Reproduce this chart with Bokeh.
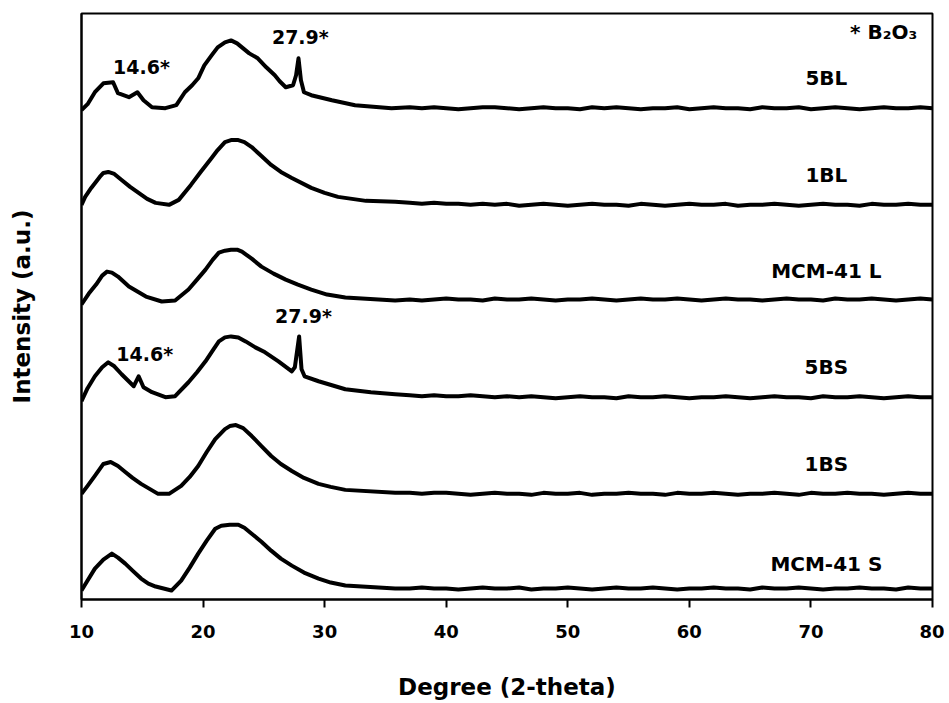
from bokeh.plotting import figure
from bokeh.models import Range1d, Label, FixedTicker
from bokeh.embed import file_html
from bokeh.resources import INLINE

# ---------------- data ----------------
x_ticks = [10, 20, 30, 40, 50, 60, 70, 80]
series_names = ["5BL", "1BL", "MCM-41 L", "5BS", "1BS", "MCM-41 S"]
offsets = [493, 396, 301, 203, 106, 11]

deg_5BL = [10, 10.5, 11.1, 11.8, 12.6, 13.0, 13.9, 14.6, 15.1, 15.8, 16.9, 17.8, 18.5, 19.1,
           19.6, 20.1, 20.7, 21.2, 21.8, 22.3, 22.8, 23.2, 23.8, 24.5, 25.2, 25.9, 26.3, 26.8,
           27.4, 27.65, 27.85, 28.05, 28.3, 28.9, 30.6, 32.5, 35.5]
int_5BL = [-2, 4, 16, 25, 26, 15, 11, 16, 8, 1, 0, 3, 16, 23,
           30, 43, 53, 61, 66, 68, 65, 61, 55, 50, 41, 33, 27, 21,
           23, 33, 50, 28, 16, 13, 8, 3, 0]

deg_1BL = [10, 10.3, 10.8, 11.5, 11.8, 12.2, 12.7, 13.3, 14.0, 14.7, 15.4, 16.1, 17.2, 18.0,
           19.0, 19.8, 20.7, 21.2, 21.8, 22.3, 22.9, 23.4, 24.0, 24.8, 25.6, 26.4, 27.3, 28.9,
           30.0, 31.1, 33.4, 35.8]
int_1BL = [0, 8, 17, 28, 32, 33, 31, 25, 18, 12, 6, 2, 0, 5,
           20, 33, 47, 55, 63, 65, 65, 63, 58, 49, 40, 33, 27, 17,
           12, 8, 4, 3]

deg_MCML = [10, 10.6, 11.2, 11.7, 12.1, 12.5, 13.0, 13.9, 14.6, 15.3, 16.6, 17.7, 18.8, 19.5,
            20.2, 20.8, 21.3, 21.8, 22.3, 22.8, 23.2, 24.0, 24.8, 25.8, 26.8, 27.8, 28.9, 30.2,
            31.7, 35.8]
int_MCML = [-5, 6, 15, 24, 28, 27, 23, 13, 8, 3, -2, -1, 10, 20,
            30, 40, 47, 49, 50, 50, 48, 41, 33, 26, 20, 15, 10, 5,
            2, -1]

deg_5BS = [10, 10.5, 11.1, 11.7, 12.2, 12.7, 13.3, 13.8, 14.3, 14.7, 15.1, 15.8, 16.9, 17.7,
           18.8, 19.5, 20.2, 20.8, 21.3, 21.8, 22.3, 22.9, 23.5, 24.3, 25.1, 26.2, 27.3, 27.55,
           27.9, 28.1, 28.35, 29.5, 31.7, 33.8, 35.8]
int_5BS = [-4, 9, 21, 30, 35, 31, 23, 17, 11, 21, 10, 5, 0, 1,
           15, 25, 36, 47, 56, 60, 61, 60, 56, 50, 45, 36, 26, 30,
           61, 28, 21, 16, 8, 5, 3]

deg_1BS = [10, 10.5, 11.1, 11.8, 12.4, 13.0, 13.6, 14.2, 14.9, 15.6, 16.3, 17.2, 18.2, 18.9,
           19.6, 20.3, 21.0, 21.8, 22.2, 22.7, 23.3, 24.0, 24.8, 25.6, 26.4, 27.3, 28.3, 29.5,
           30.5, 31.7, 35.8]
int_1BS = [0, 8, 18, 30, 32, 28, 22, 16, 10, 5, 0, 0, 8, 17,
           28, 42, 55, 65, 68, 69, 66, 58, 48, 38, 30, 23, 16, 10,
           7, 4, 1]

deg_MCMS = [10, 10.5, 11.1, 11.8, 12.5, 13.0, 13.6, 14.2, 14.9, 15.5, 16.1, 17.4, 18.2, 18.9,
            19.6, 20.3, 21.0, 21.5, 22.2, 22.9, 23.4, 24.0, 24.8, 25.6, 26.4, 27.3, 28.3, 29.5,
            30.5, 31.7, 35.8]
int_MCMS = [-2, 8, 20, 29, 35, 31, 25, 18, 10, 5, 2, -2, 8, 21,
            35, 48, 60, 63, 64, 64, 61, 55, 47, 38, 30, 23, 16, 10,
            6, 3, 0]

tail_deg = list(range(37, 81))
tail_5BL = [1, 0, 1, 0, -1, 0, 1, 1, 0, -1, 0, 1, 0, 0, -1, 1, 0, 1, 0, -1, 0, 0,
            1, -1, 0, 1, 0, 0, -1, 1, 0, 0, 1, -1, 0, 1, 0, -1, 0, 1, 0, 0, 1, 0]
tail_1BL = [2, 1, 2, 1, 1, 0, 1, 0, 1, -1, 0, 1, 0, -1, 0, 1, 0, 0, -1, 1, 0, -1,
            0, 1, 0, 0, 1, -1, 0, 0, 1, 0, -1, 0, 1, 0, 0, -1, 1, 0, 0, 1, 0, 0]
tail_MCML = [0, -1, 0, 1, 0, 0, -1, 1, 0, 0, 1, 0, -1, 0, 0, 1, 0, -1, 0, 1, 0, 0,
             1, 0, -1, 0, 1, 0, 0, -1, 0, 1, 0, 0, -1, 1, 0, 0, 1, 0, -1, 0, 1, 0]
tail_5BS = [2, 1, 2, 1, 1, 2, 1, 0, 1, 0, 1, 0, -1, 0, 1, 0, 0, -1, 1, 0, 0, 1,
            0, -1, 0, 0, 1, 0, -1, 0, 1, 0, 0, -1, 1, 0, 0, 1, 0, -1, 0, 1, 0, 0]
tail_1BS = [1, 0, 1, 1, 0, -1, 0, 1, 0, 0, -1, 1, 0, 0, 1, -1, 0, 0, 1, 0, 0, -1,
            1, 0, 0, 1, 0, -1, 0, 0, 1, 0, -1, 1, 0, 0, 1, 0, 0, -1, 0, 1, 0, 0]
tail_MCMS = [0, 1, 0, 0, -1, 0, 1, 0, 0, 1, -1, 0, 0, 1, 0, -1, 0, 1, 0, 0, 1, 0,
             -1, 0, 0, 1, 0, 0, -1, 1, 0, 0, 1, 0, -1, 0, 0, 1, 0, 0, -1, 1, 0, 0]

head_degs = [deg_5BL, deg_1BL, deg_MCML, deg_5BS, deg_1BS, deg_MCMS]
head_ints = [int_5BL, int_1BL, int_MCML, int_5BS, int_1BS, int_MCMS]
tail_ints = [tail_5BL, tail_1BL, tail_MCML, tail_5BS, tail_1BS, tail_MCMS]

# ---------------- figure ----------------
FONT = "DejaVu Sans"

p = figure(width=944, height=702, output_backend="svg", toolbar_location=None,
           x_range=Range1d(10, 80), y_range=Range1d(0, 588),
           min_border_left=81, min_border_right=12, min_border_top=13, min_border_bottom=101)
p.background_fill_color = "white"
p.border_fill_color = "white"
p.outline_line_color = "black"
p.outline_line_width = 2
p.xgrid.visible = False
p.ygrid.visible = False

for hd, hi, ti, off in zip(head_degs, head_ints, tail_ints, offsets):
    xs = list(hd) + tail_deg
    ys = [off + v for v in list(hi) + ti]
    p.line(xs, ys, line_color="black", line_width=4, line_join="round")

# x axis
xa = p.xaxis[0]
xa.ticker = FixedTicker(ticks=x_ticks)
xa.axis_line_width = 2
xa.major_tick_line_width = 2
xa.major_tick_in = 0
xa.major_tick_out = 8
xa.minor_tick_out = 0
xa.minor_tick_in = 0
xa.major_label_standoff = 17
xa.major_label_text_font = FONT
xa.major_label_text_font_style = "bold"
xa.major_label_text_font_size = "18px"
xa.major_label_text_color = "black"
xa.axis_label = "Degree (2-theta)"
xa.axis_label_text_font = FONT
xa.axis_label_text_font_style = "bold"
xa.axis_label_text_font_size = "23px"
xa.axis_label_text_color = "black"
xa.axis_label_standoff = 33

# y axis
ya = p.yaxis[0]
ya.ticker = FixedTicker(ticks=[])
ya.axis_line_width = 2
ya.major_tick_in = 0
ya.major_tick_out = 0
ya.minor_tick_in = 0
ya.minor_tick_out = 0
ya.major_label_text_font_size = "0px"
ya.axis_label = "Intensity (a.u.)"
ya.axis_label_text_font = FONT
ya.axis_label_text_font_style = "bold"
ya.axis_label_text_font_size = "23px"
ya.axis_label_text_color = "black"
ya.axis_label_standoff = 47

# series labels
name_y = [523, 426, 330, 233, 136, 36]
for name, yy in zip(series_names, name_y):
    p.add_layout(Label(x=71.27, y=yy, text=name, text_align="center", text_baseline="middle",
                       text_font=FONT, text_font_style="bold", text_font_size="20px",
                       text_color="black"))

# peak annotations
for xx, yy, t in [(14.93, 534, "14.6*"), (28.0, 564, "27.9*"),
                  (15.2, 246, "14.6*"), (28.26, 284, "27.9*")]:
    p.add_layout(Label(x=xx, y=yy, text=t, text_align="center", text_baseline="middle",
                       text_font=FONT, text_font_style="bold", text_font_size="19px",
                       text_color="black"))

p.add_layout(Label(x=78.75, y=569, text="* B\u2082O\u2083", text_align="right",
                   text_baseline="middle", text_font=FONT, text_font_style="bold",
                   text_font_size="20px", text_color="black"))

open("out.html", "w").write(file_html(p, INLINE))
